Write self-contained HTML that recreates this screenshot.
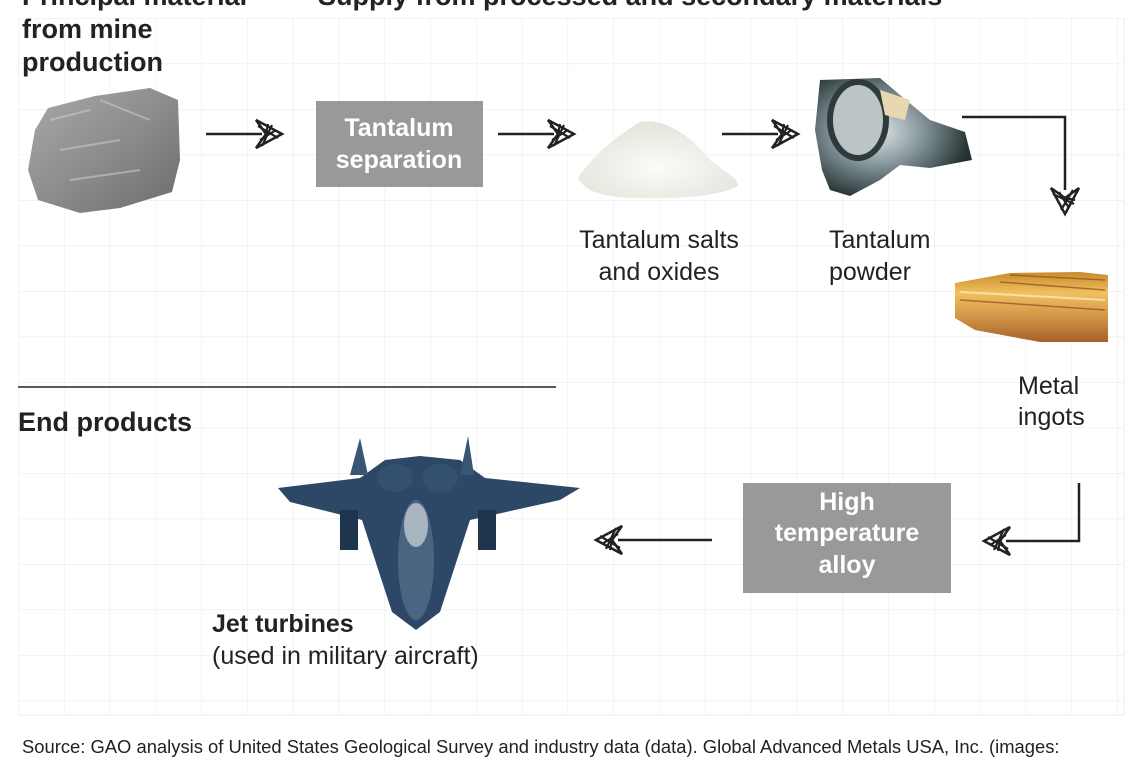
<!DOCTYPE html>
<html><head><meta charset="utf-8"><style>
html,body{margin:0;padding:0;background:#fff;}
body{width:1140px;height:760px;overflow:hidden;position:relative;font-family:"Liberation Sans",Arial,sans-serif;}
svg{position:absolute;left:0;top:0;}
</style></head><body>
<svg width="1140" height="760" viewBox="0 0 1140 760" xmlns="http://www.w3.org/2000/svg" font-family="Liberation Sans, Arial, sans-serif">
<defs>
<pattern id="g" x="18" y="18" width="45.8" height="45.5" patternUnits="userSpaceOnUse">
<path d="M0 0V45.5M0 0H45.8" stroke="#ebebeb" stroke-width="1.2" fill="none"/>
</pattern>
<linearGradient id="rock" x1="0" y1="0" x2="1" y2="1"><stop offset="0" stop-color="#a9a9a9"/><stop offset="0.5" stop-color="#8d8d8d"/><stop offset="1" stop-color="#6c6c6c"/></linearGradient>
<radialGradient id="salt" cx="0.5" cy="0.6" r="0.6"><stop offset="0" stop-color="#fbfbf8"/><stop offset="1" stop-color="#e4e4dc"/></radialGradient>
<linearGradient id="ing" x1="0" y1="0" x2="0" y2="1"><stop offset="0" stop-color="#c98a2a"/><stop offset="0.3" stop-color="#f0c060"/><stop offset="0.6" stop-color="#d69a4a"/><stop offset="1" stop-color="#a8622a"/></linearGradient>
<radialGradient id="pow" cx="0.4" cy="0.45" r="0.6"><stop offset="0" stop-color="#dfe5e8"/><stop offset="0.45" stop-color="#8a9aa0"/><stop offset="1" stop-color="#22302f"/></radialGradient>
<g id="ah"><path d="M0 0 L-26 -14 L-16 0 L-26 14 Z" fill="none" stroke="#222" stroke-width="2.5" stroke-linejoin="miter"/><path d="M-6 -4 L-22 6 M-10 -9 L-20 12 M-4 4 L-24 -8 M-14 -10 L-18 10" stroke="#222" stroke-width="2.2"/></g>
</defs>
<rect x="18" y="18" width="1106" height="697" fill="url(#g)"/>
<line x1="1124" y1="18" x2="1124" y2="715" stroke="#ebebeb"/>
<line x1="18" y1="715" x2="1124" y2="715" stroke="#ebebeb"/>

<g font-weight="bold" font-size="27" fill="#222">
<text x="22" y="5">Principal material</text>
<text x="22" y="38">from mine</text>
<text x="22" y="71">production</text>
<text x="318" y="5">Supply from processed and secondary materials</text>
<text x="18" y="431">End products</text>
</g>

<path d="M48 108 L95 96 L150 88 L178 100 L180 160 L172 192 L120 208 L80 213 L38 200 L28 170 L35 130 Z" fill="url(#rock)"/>
<path d="M50 120 L90 110 M60 150 L120 140 M70 180 L140 170 M100 100 L150 120" stroke="#c8c8c8" stroke-width="2" opacity="0.6"/>

<line x1="206" y1="134" x2="262" y2="134" stroke="#222" stroke-width="2.5"/>
<use href="#ah" x="282" y="134"/>
<rect x="316" y="101" width="167" height="86" fill="#999"/>
<g font-weight="bold" font-size="25" fill="#fff" text-anchor="middle">
<text x="399" y="136">Tantalum</text>
<text x="399" y="168">separation</text>
</g>
<line x1="498" y1="134" x2="554" y2="134" stroke="#222" stroke-width="2.5"/>
<use href="#ah" x="574" y="134"/>

<path d="M578 178 C590 160 610 140 640 122 C665 118 690 135 710 160 C725 172 738 178 738 186 C720 196 680 199 640 198 C605 198 585 192 578 178 Z" fill="url(#salt)"/>
<g font-size="25" fill="#222" text-anchor="middle">
<text x="659" y="248">Tantalum salts</text>
<text x="659" y="280">and oxides</text>
</g>

<line x1="722" y1="134" x2="778" y2="134" stroke="#222" stroke-width="2.5"/>
<use href="#ah" x="798" y="134"/>

<path d="M820 80 L880 78 L900 95 L930 120 L965 132 L972 160 L930 168 L900 165 L880 180 L850 196 L830 190 L822 170 L815 130 Z" fill="url(#pow)"/>
<ellipse cx="858" cy="120" rx="28" ry="38" fill="#bcc4c8" stroke="#2f3b3a" stroke-width="6"/>
<path d="M880 90 L910 100 L905 120 L885 115 Z" fill="#e8d8b0"/>
<g font-size="25" fill="#222">
<text x="829" y="248">Tantalum</text>
<text x="829" y="280">powder</text>
</g>

<path d="M962 117 L1065 117 L1065 190" fill="none" stroke="#222" stroke-width="2.5"/>
<use href="#ah" transform="translate(1065 214) rotate(90)"/>

<path d="M955 283 L1010 273 L1080 272 L1108 275 L1108 342 L1040 342 L975 330 L955 318 Z" fill="url(#ing)"/>
<path d="M960 300 L1105 310 M1000 282 L1105 290 M1010 275 L1105 280" stroke="#8a5020" stroke-width="1.5" opacity="0.7"/>
<path d="M960 292 L1105 300" stroke="#fff2c0" stroke-width="2" opacity="0.7"/>
<g font-size="25" fill="#222">
<text x="1018" y="394">Metal</text>
<text x="1018" y="425">ingots</text>
</g>

<path d="M1079 483 L1079 541 L1006 541" fill="none" stroke="#222" stroke-width="2.5"/>
<use href="#ah" transform="translate(984 541) rotate(180)"/>

<rect x="743" y="483" width="208" height="110" fill="#999"/>
<g font-weight="bold" font-size="25" fill="#fff" text-anchor="middle">
<text x="847" y="510">High</text>
<text x="847" y="541">temperature</text>
<text x="847" y="573">alloy</text>
</g>

<line x1="712" y1="540" x2="618" y2="540" stroke="#222" stroke-width="2.5"/>
<use href="#ah" transform="translate(596 540) rotate(180)"/>

<line x1="18" y1="387" x2="556" y2="387" stroke="#222" stroke-width="1.5"/>

<g>
<path d="M278 488 L360 478 L385 460 L420 456 L460 460 L485 478 L580 488 L560 500 L470 520 L440 612 L416 630 L392 612 L362 520 L290 502 Z" fill="#2d4866"/>
<path d="M350 475 L360 438 L368 475 Z M460 475 L468 436 L474 475 Z" fill="#3a5674"/>
<ellipse cx="416" cy="560" rx="18" ry="60" fill="#4a6582"/>
<ellipse cx="416" cy="525" rx="12" ry="22" fill="#a8b4c0"/>
<rect x="340" y="510" width="18" height="40" fill="#1f354d"/>
<rect x="478" y="510" width="18" height="40" fill="#1f354d"/>
<ellipse cx="395" cy="478" rx="18" ry="14" fill="#34506f"/>
<ellipse cx="440" cy="478" rx="18" ry="14" fill="#34506f"/>
</g>
<text x="212" y="632" font-size="25" font-weight="bold" fill="#222">Jet turbines</text>
<text x="212" y="664" font-size="25" fill="#222">(used in military aircraft)</text>

<text x="22" y="753" font-size="18.4" fill="#222">Source: GAO analysis of United States Geological Survey and industry data (data). Global Advanced Metals USA, Inc. (images:</text>
</svg>
</body></html>
